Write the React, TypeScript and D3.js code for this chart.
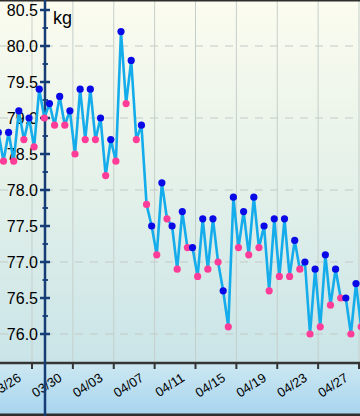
import React from "react";
import * as d3 from "d3";

// ---- data ----
const tickLabels = ["03/26", "03/30", "04/03", "04/07", "04/11", "04/15", "04/19", "04/23", "04/27"];
const yMajorTicks = [76.0, 76.5, 77.0, 77.5, 78.0, 78.5, 79.0, 79.5, 80.0, 80.5];
const yGridValues = [76, 77, 78, 79, 80];
const year = 2015;

// morning readings (pink), 03/23 .. 04/27
const morningStart = "03/23";
const morningValues = [
  78.4, 78.4, 78.7, 78.6, 79.0, 78.9, 78.9, 78.5, 78.7,
  78.7, 78.2, 78.4, 79.2, 78.7, 77.8, 77.1, 77.6, 76.9, 77.2, 76.8, 76.9, 77.0, 76.1,
  77.2, 77.1, 77.2, 76.6, 76.8, 76.8, 76.9, 76.0, 76.1, 76.4, 76.5, 76.0, 76.1,
];
// evening readings (blue), 03/22 .. 04/26
const eveningStart = "03/22";
const eveningValues = [
  78.8, 78.8, 79.1, 79.0, 79.4, 79.2, 79.3, 79.1, 79.4, 79.4,
  79.0, 78.7, 80.2, 79.8, 78.9, 77.5, 78.1, 77.5, 77.7, 77.2, 77.6, 77.6, 76.6, 77.9,
  77.7, 77.9, 77.5, 77.6, 77.6, 77.3, 77.0, 76.9, 77.1, 76.9, 76.5, 76.7,
];
const morningHour = 5;
const eveningHour = 17;

const W = 360;
const H = 416;
const plotBottom = 363;
const axisX = 45;

function parseMD(s: string, hour = 0) {
  const [m, d] = s.split("/").map(Number);
  return new Date(Date.UTC(year, m - 1, d, hour));
}

type Pt = { t: Date; v: number; kind: "m" | "e" };

export default function App() {
  const x = d3
    .scaleUtc()
    .domain([parseMD(tickLabels[0]), parseMD(tickLabels[tickLabels.length - 1])])
    .range([32, 359]);
  const y = d3.scaleLinear().domain([76, 80]).range([334, 46]);

  const pts: Pt[] = [];
  const m0 = parseMD(morningStart, morningHour);
  morningValues.forEach((v, i) => pts.push({ t: d3.utcDay.offset(m0, i), v, kind: "m" }));
  const e0 = parseMD(eveningStart, eveningHour);
  eveningValues.forEach((v, i) => pts.push({ t: d3.utcDay.offset(e0, i), v, kind: "e" }));
  pts.sort((a, b) => +a.t - +b.t);

  const line = d3
    .line<Pt>()
    .x((d) => x(d.t))
    .y((d) => y(d.v));

  const minorTicks: number[] = [];
  for (let v = 76.25; v < 80.6; v += 0.5) minorTicks.push(v);

  const font = "'Liberation Sans', Arial, Helvetica, sans-serif";

  return (
    <svg
      width={W}
      height={H}
      style={{ position: "fixed", left: 0, top: 0, display: "block" }}
      fontFamily={font}
    >
      <defs>
        <linearGradient id="plotBg" x1="0" y1="0" x2="0" y2="1">
          <stop offset="0" stopColor="#fcfcef" />
          <stop offset="0.5" stopColor="#e4f1e9" />
          <stop offset="1" stopColor="#c9e4e8" />
        </linearGradient>
        <linearGradient id="axisBg" x1="0" y1="0" x2="0" y2="1">
          <stop offset="0" stopColor="#cde8f1" />
          <stop offset="1" stopColor="#a6d4ef" />
        </linearGradient>
        <clipPath id="plotClip">
          <rect x={0} y={0} width={W} height={plotBottom} />
        </clipPath>
      </defs>

      <rect x={0} y={0} width={W} height={plotBottom} fill="url(#plotBg)" />
      <rect x={0} y={plotBottom} width={W} height={H - plotBottom} fill="url(#axisBg)" />

      {/* vertical grid */}
      {tickLabels.map((l) => (
        <line
          key={"vg" + l}
          x1={x(parseMD(l))}
          x2={x(parseMD(l))}
          y1={0}
          y2={plotBottom}
          stroke="#c5cfca"
          strokeWidth={1}
        />
      ))}
      {/* horizontal dashed grid */}
      {yGridValues.map((v) => (
        <line
          key={"hg" + v}
          x1={0}
          x2={W}
          y1={y(v)}
          y2={y(v)}
          stroke="#c3cac6"
          strokeWidth={1}
          strokeDasharray="8,7"
        />
      ))}

      {/* x axis */}
      <line x1={0} x2={W} y1={plotBottom} y2={plotBottom} stroke="#353535" strokeWidth={2.5} />
      {tickLabels.map((l) => {
        const tx = x(parseMD(l));
        return (
          <g key={"xt" + l}>
            <line x1={tx} x2={tx} y1={plotBottom} y2={plotBottom + 6} stroke="#353535" strokeWidth={2} />
            <text
              transform={`translate(${tx - 10},${380}) rotate(-33)`}
              textAnchor="end"
              fontSize={13}
              fill="#000"
            >
              {l}
            </text>
          </g>
        );
      })}

      {/* top and bottom borders */}
      <rect x={0} y={0} width={W} height={1.5} fill="#2e2e2e" />
      <rect x={0} y={H - 2.5} width={W} height={2.5} fill="#2e2e2e" />

      {/* y axis */}
      <line x1={axisX} x2={axisX} y1={0} y2={H} stroke="#173d77" strokeWidth={2.5} />
      {yMajorTicks.map((v) => (
        <g key={"yt" + v}>
          <line x1={axisX - 5} x2={axisX + 5} y1={y(v)} y2={y(v)} stroke="#173d77" strokeWidth={2.5} />
          <text x={38} y={y(v)} dy="0.36em" textAnchor="end" fontSize={16} fill="#000">
            {v.toFixed(1)}
          </text>
        </g>
      ))}
      {minorTicks.map((v) => (
        <line key={"ym" + v} x1={axisX - 2.5} x2={axisX + 3} y1={y(v)} y2={y(v)} stroke="#173d77" strokeWidth={1.8} />
      ))}
      <text x={53} y={24} fontSize={18} fill="#000">
        kg
      </text>

      {/* data */}
      <g clipPath="url(#plotClip)">
        <path d={line(pts) || ""} fill="none" stroke="#14aceb" strokeWidth={2.6} strokeLinejoin="round" />
        {pts.map((p, i) => (
          <circle
            key={i}
            cx={x(p.t)}
            cy={y(p.v)}
            r={3.6}
            fill={p.kind === "e" ? "#0a0ae6" : "#ff3d98"}
          />
        ))}
      </g>
    </svg>
  );
}
